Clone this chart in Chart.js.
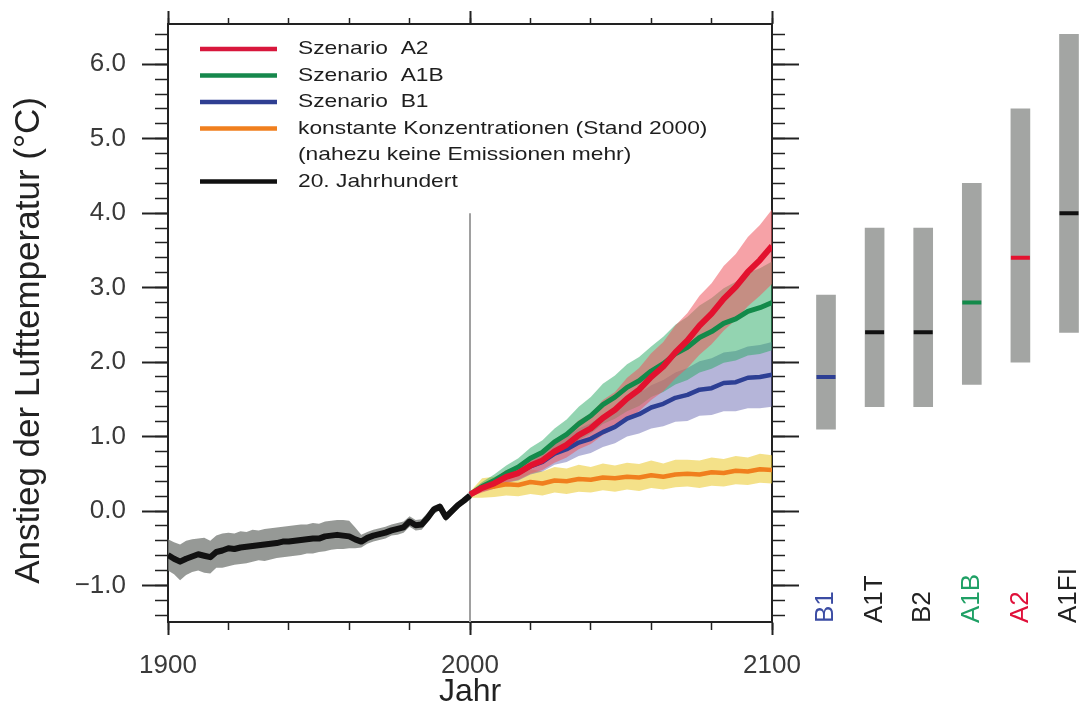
<!DOCTYPE html>
<html lang="de">
<head>
<meta charset="utf-8">
<title>Anstieg der Lufttemperatur</title>
<script src="https://cdn.jsdelivr.net/npm/chart.js@4.4.1/dist/chart.umd.min.js"></script>
<style>
  html, body { margin: 0; padding: 0; background: #fff; overflow: hidden; }
  #wrap { position: relative; width: 1080px; height: 711px; overflow: hidden; }
  #main { position: absolute; left: 0; top: 0; }
  #ranges { position: absolute; left: 800px; top: 0; }
</style>
</head>
<body>
<div id="wrap">
  <canvas id="main" width="800" height="711"></canvas>
  <canvas id="ranges" width="300" height="711"></canvas>
</div>
<script>
// --- data ---
const histYears = Array.from({ length: 51 }, (_, i) => 1900 + 2 * i);
const histMean = [
  -0.59, -0.64, -0.68, -0.64, -0.61, -0.58, -0.60, -0.62, -0.55, -0.53,
  -0.50, -0.51, -0.49, -0.48, -0.47, -0.46, -0.45, -0.44, -0.43, -0.41,
  -0.41, -0.40, -0.39, -0.38, -0.37, -0.37, -0.34, -0.33, -0.32, -0.33,
  -0.34, -0.38, -0.41, -0.36, -0.33, -0.31, -0.29, -0.26, -0.24, -0.22,
  -0.14, -0.19, -0.18, -0.09, 0.02, 0.06, -0.08, 0.00, 0.08, 0.14,
  0.21
];
const histUpper = [
  -0.38, -0.42, -0.45, -0.40, -0.38, -0.37, -0.36, -0.40, -0.33, -0.30,
  -0.29, -0.30, -0.27, -0.28, -0.25, -0.26, -0.24, -0.23, -0.22, -0.21,
  -0.20, -0.19, -0.18, -0.18, -0.16, -0.17, -0.14, -0.13, -0.12, -0.12,
  -0.13, -0.22, -0.32, -0.28, -0.25, -0.23, -0.21, -0.18, -0.16, -0.14,
  -0.07, -0.12, -0.11, -0.02, 0.07, 0.10, -0.03, 0.05, 0.12, 0.18,
  0.25
];
const histLower = [
  -0.80, -0.85, -0.93, -0.86, -0.82, -0.80, -0.83, -0.84, -0.76, -0.76,
  -0.74, -0.72, -0.71, -0.70, -0.68, -0.66, -0.67, -0.65, -0.63, -0.62,
  -0.61, -0.60, -0.59, -0.57, -0.57, -0.55, -0.54, -0.52, -0.51, -0.51,
  -0.50, -0.50, -0.49, -0.44, -0.41, -0.39, -0.37, -0.33, -0.32, -0.29,
  -0.21, -0.26, -0.25, -0.15, -0.04, 0.01, -0.14, -0.05, 0.03, 0.10,
  0.17
];

const projYears = Array.from({ length: 26 }, (_, i) => 2000 + 4 * i);
const a2Mean  = [0.22, 0.31, 0.37, 0.46, 0.51, 0.61, 0.68, 0.80, 0.89, 1.02, 1.11, 1.25, 1.36, 1.51, 1.63, 1.80, 1.94, 2.13, 2.29, 2.49, 2.65, 2.85, 3.01, 3.21, 3.37, 3.56];
const a2Upper = [0.25, 0.37, 0.44, 0.55, 0.60, 0.72, 0.81, 0.95, 1.06, 1.22, 1.31, 1.49, 1.60, 1.79, 1.92, 2.12, 2.27, 2.49, 2.66, 2.89, 3.06, 3.29, 3.45, 3.68, 3.84, 4.05];
const a2Lower = [0.19, 0.25, 0.30, 0.38, 0.42, 0.50, 0.55, 0.65, 0.72, 0.83, 0.90, 1.02, 1.11, 1.24, 1.34, 1.49, 1.61, 1.78, 1.92, 2.10, 2.24, 2.42, 2.57, 2.75, 2.89, 3.05];

const a1bMean  = [0.22, 0.33, 0.41, 0.51, 0.59, 0.71, 0.79, 0.93, 1.03, 1.17, 1.28, 1.43, 1.53, 1.66, 1.75, 1.88, 1.98, 2.11, 2.20, 2.33, 2.41, 2.52, 2.58, 2.68, 2.73, 2.80];
const a1bUpper = [0.26, 0.39, 0.49, 0.61, 0.71, 0.85, 0.95, 1.11, 1.23, 1.40, 1.53, 1.71, 1.82, 1.97, 2.07, 2.21, 2.34, 2.50, 2.61, 2.76, 2.86, 2.99, 3.08, 3.20, 3.26, 3.35];
const a1bLower = [0.18, 0.27, 0.33, 0.42, 0.48, 0.58, 0.63, 0.75, 0.83, 0.95, 1.04, 1.17, 1.24, 1.34, 1.41, 1.53, 1.60, 1.70, 1.76, 1.86, 1.91, 1.99, 2.02, 2.09, 2.11, 2.16];

const b1Mean  = [0.22, 0.31, 0.37, 0.46, 0.51, 0.60, 0.66, 0.77, 0.83, 0.92, 0.97, 1.06, 1.13, 1.24, 1.30, 1.39, 1.44, 1.52, 1.56, 1.63, 1.65, 1.72, 1.73, 1.79, 1.80, 1.83];
const b1Upper = [0.25, 0.36, 0.43, 0.54, 0.61, 0.71, 0.79, 0.92, 1.00, 1.11, 1.18, 1.29, 1.38, 1.50, 1.58, 1.69, 1.76, 1.86, 1.92, 2.01, 2.05, 2.13, 2.15, 2.21, 2.23, 2.27];
const b1Lower = [0.19, 0.26, 0.30, 0.38, 0.41, 0.49, 0.53, 0.62, 0.66, 0.74, 0.78, 0.86, 0.91, 1.00, 1.04, 1.11, 1.14, 1.20, 1.21, 1.28, 1.29, 1.34, 1.34, 1.38, 1.38, 1.40];

const constMean  = [0.22, 0.31, 0.33, 0.36, 0.35, 0.39, 0.37, 0.41, 0.40, 0.43, 0.42, 0.45, 0.44, 0.46, 0.45, 0.48, 0.46, 0.49, 0.50, 0.49, 0.52, 0.51, 0.54, 0.53, 0.56, 0.55];
const constUpper = [0.26, 0.44, 0.46, 0.52, 0.50, 0.56, 0.53, 0.59, 0.57, 0.62, 0.59, 0.64, 0.61, 0.65, 0.63, 0.68, 0.64, 0.69, 0.69, 0.68, 0.72, 0.70, 0.74, 0.72, 0.77, 0.75];
const constLower = [0.18, 0.18, 0.19, 0.21, 0.20, 0.23, 0.21, 0.25, 0.23, 0.26, 0.25, 0.28, 0.26, 0.29, 0.27, 0.31, 0.29, 0.32, 0.33, 0.31, 0.34, 0.33, 0.36, 0.35, 0.38, 0.37];

// reference line at the year 2000
const dividerYear = 2000;
const dividerTop = 4.0;

// ranges for the end of the century (right panel)
const rangeLabels = ['B1', 'A1T', 'B2', 'A1B', 'A2', 'A1FI'];
const rangeLow  = [1.1, 1.4, 1.4, 1.7, 2.0, 2.4];
const rangeHigh = [2.9, 3.8, 3.8, 4.4, 5.4, 6.4];
const rangeBest = [1.8, 2.4, 2.4, 2.8, 3.4, 4.0];

// axis ticks
const xLabelTicks = [1900, 2000, 2100];
const yLabelTicks = [-1, 0, 1, 2, 3, 4, 5, 6];

const legendLabels = [
  'Szenario  A2',
  'Szenario  A1B',
  'Szenario  B1',
  ['konstante Konzentrationen (Stand 2000)', '(nahezu keine Emissionen mehr)'],
  '20. Jahrhundert'
];

// --- styling ---
const FONT = '"Liberation Sans", Arial, sans-serif';
const RED = '#e3122f', GREEN = '#138a4a', BLUE = '#2d3f94', ORANGE = '#f07f1e', BLACK = '#111111';
const legendColors = ['#d8173c', '#16884c', '#2f3f92', '#f07f1e', BLACK];
const rangeColors = [BLUE, BLACK, BLACK, GREEN, RED, BLACK];
const rangeLabelColors = ['#3b4ca3', '#222', '#222', '#1fa065', '#e0103a', '#222'];
const AXIS = '#222';
const LABEL = '#3a3a3a';
const Y_MIN = -1.49, Y_MAX = 6.54;
const X_MIN = 1900, X_MAX = 2100;

Chart.defaults.font.family = FONT;

function pts(xs, ys) {
  return xs.map((x, i) => ({ x: x, y: ys[i] }));
}

function band(xs, upper, lower, color, order) {
  return [
    { data: pts(xs, upper), borderWidth: 0, borderColor: 'transparent', fill: '+1', backgroundColor: color, order: order },
    { data: pts(xs, lower), borderWidth: 0, borderColor: 'transparent', fill: false, order: order }
  ];
}

function line(xs, ys, color, width, order) {
  return { data: pts(xs, ys), borderColor: color, borderWidth: width, fill: false, order: order, borderJoinStyle: 'round' };
}

function tickFormat(v) {
  return (v < 0 ? '\u2212' : '') + Math.abs(v).toFixed(1);
}

// keep the plot frame where it is: no extra room for end labels
function fixV(width) {
  return s => { s.width = width; s.paddingTop = 0; s.paddingBottom = 0; };
}
function fixH(height) {
  return s => { s.height = height; s.paddingLeft = 0; s.paddingRight = 0; };
}

// legend drawn inside the plot area (text a bit wide, like the original)
const legendPlugin = {
  id: 'boxLegend',
  afterDraw(chart) {
    const { ctx, chartArea } = chart;
    const x0 = chartArea.left + 32;
    const textX = chartArea.left + 130;
    const rowH = 26.5;
    let y = chartArea.top + 25;
    ctx.save();
    ctx.font = '19px ' + FONT;
    ctx.textBaseline = 'middle';
    legendLabels.forEach((text, i) => {
      ctx.strokeStyle = legendColors[i];
      ctx.lineWidth = 4.5;
      ctx.beginPath();
      ctx.moveTo(x0, y);
      ctx.lineTo(x0 + 77, y);
      ctx.stroke();
      ctx.fillStyle = '#1e1e1e';
      const lines = [].concat(text);
      lines.forEach((t, k) => {
        ctx.save();
        ctx.translate(textX, y + k * rowH);
        ctx.scale(1.2, 1);
        ctx.fillText(t, 0, 0);
        ctx.restore();
      });
      y += rowH * lines.length;
    });
    ctx.restore();
  }
};

const datasets = [
  { data: [{ x: dividerYear, y: Y_MIN }, { x: dividerYear, y: dividerTop }], borderColor: '#a0a0a0', borderWidth: 2, fill: false, order: 30 },
  ...band(projYears, constUpper, constLower, 'rgba(235, 200, 40, 0.55)', 25),
  ...band(projYears, b1Upper, b1Lower, 'rgba(90, 90, 170, 0.45)', 24),
  ...band(projYears, a1bUpper, a1bLower, 'rgba(40, 170, 100, 0.5)', 23),
  ...band(projYears, a2Upper, a2Lower, 'rgba(238, 85, 95, 0.55)', 22),
  ...band(histYears, histUpper, histLower, 'rgba(120, 124, 120, 0.78)', 21),
  line(projYears, constMean, ORANGE, 4.5, 5),
  line(projYears, b1Mean, BLUE, 4.5, 4),
  line(projYears, a1bMean, GREEN, 5, 3),
  line(projYears, a2Mean, RED, 6, 2),
  line(histYears, histMean, BLACK, 6, 1)
];

const hidden = { display: false };

new Chart(document.getElementById('main'), {
  type: 'line',
  data: { datasets: datasets },
  options: {
    responsive: false,
    animation: false,
    devicePixelRatio: 1,
    elements: { point: { radius: 0 }, line: { tension: 0 } },
    layout: { autoPadding: false, padding: { top: 11, left: 0, right: 1, bottom: 0 } },
    plugins: { legend: hidden, tooltip: { enabled: false } },
    scales: {
      x: {
        type: 'linear', position: 'bottom', weight: 1, min: X_MIN, max: X_MAX,
        afterBuildTicks: s => { s.ticks = xLabelTicks.map(v => ({ value: v })); },
        afterFit: fixH(89),
        grid: { drawOnChartArea: false, tickLength: 13, tickWidth: 2, tickColor: AXIS },
        border: { display: true, color: AXIS, width: 2 },
        ticks: { color: LABEL, font: { size: 26 }, padding: 15, maxRotation: 0, autoSkip: false, callback: v => String(v) },
        title: { display: true, text: 'Jahr', color: '#222', font: { size: 32 }, padding: { top: 0, bottom: 0 } }
      },
      xMinor: {
        type: 'linear', position: 'bottom', weight: 0, min: X_MIN, max: X_MAX,
        afterFit: fixH(0),
        grid: { drawOnChartArea: false, tickLength: 8, tickWidth: 1.5, tickColor: AXIS },
        border: hidden,
        ticks: { display: false, stepSize: 20, includeBounds: false }
      },
      xTop: {
        type: 'linear', position: 'top', weight: 0, min: X_MIN, max: X_MAX,
        afterFit: fixH(0),
        grid: { drawOnChartArea: false, tickLength: 6, tickWidth: 1.5, tickColor: AXIS },
        border: { display: true, color: AXIS, width: 2 },
        ticks: { display: false, stepSize: 20, includeBounds: false }
      },
      xTopMajor: {
        type: 'linear', position: 'top', weight: 1, min: X_MIN, max: X_MAX,
        afterBuildTicks: s => { s.ticks = xLabelTicks.map(v => ({ value: v })); },
        afterFit: fixH(13),
        grid: { drawOnChartArea: false, tickLength: 13, tickWidth: 2, tickColor: AXIS },
        border: hidden,
        ticks: { display: false }
      },
      y: {
        position: 'left', weight: 1, min: Y_MIN, max: Y_MAX,
        afterBuildTicks: s => { s.ticks = yLabelTicks.map(v => ({ value: v })); },
        afterFit: fixV(168),
        grid: { drawOnChartArea: false, tickLength: 26, tickWidth: 2, tickColor: AXIS },
        border: { display: true, color: AXIS, width: 2 },
        ticks: { color: LABEL, font: { size: 26 }, padding: 16, callback: tickFormat },
        title: { display: true, text: 'Anstieg der Lufttemperatur (°C)\u2003', color: '#222', font: { size: 35 }, padding: { top: 8, bottom: 0 } }
      },
      yMinor: {
        position: 'left', weight: 0, min: Y_MIN, max: Y_MAX,
        afterFit: fixV(0),
        grid: { drawOnChartArea: false, tickLength: 13, tickWidth: 1.5, tickColor: AXIS },
        border: hidden,
        ticks: { display: false, stepSize: 0.2, includeBounds: false }
      },
      yRight: {
        position: 'right', weight: 1, min: Y_MIN, max: Y_MAX,
        afterBuildTicks: s => { s.ticks = yLabelTicks.map(v => ({ value: v })); },
        afterFit: fixV(27),
        grid: { drawOnChartArea: false, tickLength: 27, tickWidth: 2, tickColor: AXIS },
        border: { display: true, color: AXIS, width: 2 },
        ticks: { display: false }
      },
      yRightMinor: {
        position: 'right', weight: 0, min: Y_MIN, max: Y_MAX,
        afterFit: fixV(0),
        grid: { drawOnChartArea: false, tickLength: 13, tickWidth: 1.5, tickColor: AXIS },
        border: hidden,
        ticks: { display: false, stepSize: 0.2, includeBounds: false }
      }
    }
  },
  plugins: [legendPlugin]
});

// rotated scenario names under the range bars
const rangeLabelPlugin = {
  id: 'rangeLabels',
  afterDraw(chart) {
    const { ctx, chartArea, scales } = chart;
    ctx.save();
    ctx.font = '26px ' + FONT;
    ctx.textBaseline = 'middle';
    ctx.textAlign = 'left';
    rangeLabels.forEach((lab, i) => {
      const x = scales.x.getPixelForValue(i);
      ctx.save();
      ctx.translate(x, chartArea.bottom + 1);
      ctx.rotate(-Math.PI / 2);
      ctx.fillStyle = rangeLabelColors[i];
      ctx.fillText(lab, 0, 0);
      ctx.restore();
    });
    ctx.restore();
  }
};

new Chart(document.getElementById('ranges'), {
  type: 'bar',
  data: {
    labels: rangeLabels,
    datasets: [
      {
        type: 'line', data: rangeBest, showLine: false, order: 0,
        pointStyle: 'line', pointRadius: 9.5, pointBorderWidth: 4,
        pointBorderColor: rangeColors, pointBackgroundColor: rangeColors
      },
      {
        type: 'bar', data: rangeLow.map((lo, i) => [lo, rangeHigh[i]]), order: 1,
        backgroundColor: '#a3a5a3', barThickness: 19
      }
    ]
  },
  options: {
    responsive: false,
    animation: false,
    devicePixelRatio: 1,
    layout: { autoPadding: false, padding: { left: 1.7, right: 6.7, top: 24, bottom: 89 } },
    plugins: { legend: hidden, tooltip: { enabled: false } },
    scales: {
      x: { display: false },
      y: { display: false, min: Y_MIN, max: Y_MAX }
    }
  },
  plugins: [rangeLabelPlugin]
});
</script>
</body>
</html>
